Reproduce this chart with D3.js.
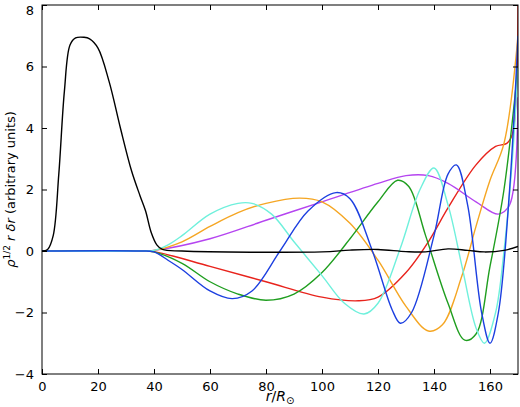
<!DOCTYPE html><html><head><meta charset="utf-8"><script src="https://cdn.jsdelivr.net/npm/d3@7"></script>
<style>body{margin:0;background:#fff}text{font-family:"DejaVu Sans",sans-serif}</style></head><body>
<svg id="c" width="520" height="407"></svg>
<script>
const xTicks=[0,20,40,60,80,100,120,140,160];
const yTicks=[-4,-2,0,2,4,6,8];
const black=[[0,0],[2,0.05],[4,0.5],[6,2.5],[8,5.2],[10,6.7],[12,6.93],[15,6.95],[17,6.9],[20,6.6],[24,5.5],[28,4],[32,2.6],[35,1.8],[37,1.3],[39,0.6],[41,0.2],[43,0.05],[50,0],[100,-0.03],[110,0.03],[120,0.05],[130,-0.02],[137,-0.03],[145,0.07],[152,0.02],[158,-0.03],[165,0.02],[170,0.15]];
const cyan=[[0,0],[35,0],[40,0.02],[45,0.2],[50,0.5],[60,1.2],[70,1.55],[75,1.55],[82,1.2],[90,0.3],[100,-0.8],[108,-1.7],[115,-2.05],[120,-1.7],[128,0.1],[135,2.0],[140,2.7],[145,1.5],[150,-0.5],[155,-2.5],[158,-3],[162,-2],[165,0],[168,3],[170,6]];
const orange=[[0,0],[35,0],[40,0.02],[50,0.3],[60,0.8],[70,1.25],[80,1.55],[92,1.72],[100,1.6],[110,0.9],[120,-0.3],[130,-1.8],[138,-2.6],[143,-2.4],[150,-0.8],[155,0.8],[160,2.3],[165,3.5],[170,7]];
const purple=[[0,0],[35,0],[40,0.02],[60,0.4],[80,1.0],[100,1.6],[120,2.2],[130,2.45],[138,2.45],[145,2.2],[155,1.6],[163,1.2],[167,1.5],[170,5]];
const blue=[[0,0],[35,0],[40,-0.03],[45,-0.3],[50,-0.6],[60,-1.3],[68,-1.55],[75,-1.3],[85,0],[95,1.3],[105,1.9],[110,1.7],[118,0],[125,-1.9],[128,-2.35],[132,-2],[140,0.5],[145,2.5],[148,2.8],[152,1.5],[157,-2],[160,-3.0],[163,-2],[167,2],[170,7]];
const green=[[0,0],[35,0],[40,-0.03],[50,-0.4],[60,-1],[70,-1.4],[80,-1.6],[90,-1.4],[100,-0.7],[110,0.4],[120,1.6],[127,2.3],[131,2.1],[137,0.5],[145,-1.7],[151,-2.9],[155,-2.7],[160,-0.5],[165,2],[170,6]];
const red=[[0,0],[35,0],[40,-0.02],[60,-0.5],[80,-1.0],[100,-1.5],[113,-1.62],[120,-1.5],[130,-0.7],[138,0.3],[145,1.4],[155,2.8],[162,3.4],[166,3.5],[168,3.8],[170,8]];
const series=[[red,"#e8231c"],[purple,"#b545f0"],[orange,"#f5a623"],[green,"#1f9e1f"],[cyan,"#6ff0dc"],[blue,"#1c3fe0"],[black,"#000"]];
const svg=d3.select("#c");
const L=42,R=518,T=5,B=374;
const x=d3.scaleLinear().domain([0,170]).range([L,R]);
const y=d3.scaleLinear().domain([-4,8]).range([B,T]);
svg.append("clipPath").attr("id","cp").append("rect").attr("x",L).attr("y",T).attr("width",R-L).attr("height",B-T);
const g=svg.append("g").attr("clip-path","url(#cp)");
const line=d3.line().x(d=>x(d[0])).y(d=>y(d[1])).curve(d3.curveCatmullRom);
series.forEach(([d,c])=>g.append("path").attr("d",line(d)).attr("fill","none").attr("stroke",c).attr("stroke-width",1.4));
svg.append("rect").attr("x",L).attr("y",T).attr("width",R-L).attr("height",B-T).attr("fill","none").attr("stroke","#000");
const ax=svg.append("g").attr("transform",`translate(0,${B})`).call(d3.axisBottom(x).tickValues(xTicks).tickSizeInner(-5).tickSizeOuter(0).tickPadding(8));
const ax2=svg.append("g").attr("transform",`translate(0,${T})`).call(d3.axisTop(x).tickValues(xTicks).tickSizeInner(-5).tickSizeOuter(0).tickFormat(""));
const ay=svg.append("g").attr("transform",`translate(${L},0)`).call(d3.axisLeft(y).tickValues(yTicks).tickSizeInner(-5).tickSizeOuter(0).tickPadding(8));
const ay2=svg.append("g").attr("transform",`translate(${R},0)`).call(d3.axisRight(y).tickValues(yTicks).tickSizeInner(-5).tickSizeOuter(0).tickFormat(""));
[ax,ax2,ay,ay2].forEach(a=>{a.select(".domain").remove();a.selectAll("text").attr("font-size",13).attr("font-family","DejaVu Sans");});
ay.selectAll("text").filter(d=>d===8).attr("dy","0.75em");
svg.append("text").attr("x",(L+R)/2).attr("y",401).attr("text-anchor","middle").attr("font-size",14)
 .html('<tspan font-style="italic">r</tspan>/<tspan font-style="italic">R</tspan><tspan font-size="10" dy="3">⊙</tspan>');
svg.append("text").attr("transform",`translate(15,${(T+B)/2}) rotate(-90)`).attr("text-anchor","middle").attr("font-size",13)
 .html('<tspan font-style="italic">ρ</tspan><tspan font-size="9" dy="-5">1/2</tspan><tspan dy="5" font-style="italic"> r δr</tspan> (arbitrary units)');
</script></body></html>
